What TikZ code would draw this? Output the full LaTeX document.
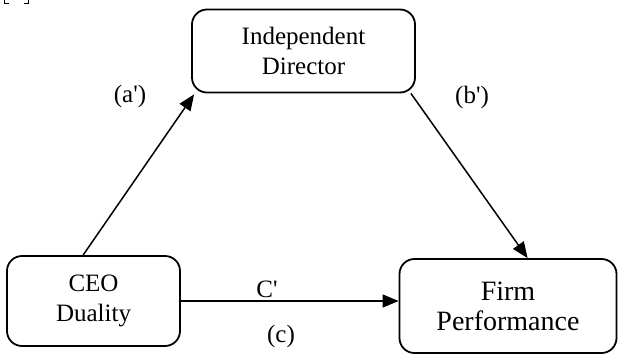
\documentclass[tikz,border=0pt]{standalone}
\usepackage{fontspec}
\setmainfont{Liberation Serif}
\usetikzlibrary{arrows.meta,calc}
\begin{document}
\begin{tikzpicture}[x=1pt,y=-1pt,
  box/.style={draw,line width=1.8pt,rounded corners=15pt,align=center,inner sep=0pt},
  arr/.style={line width=1.5pt,-{Triangle[length=16pt,width=13pt]}},
  lbl/.style={inner sep=0pt,font=\fontsize{25}{30}\selectfont}]
\useasboundingbox (0,0) rectangle (618,356);
\draw[line width=1.2pt] (4.5,0) -- (4.5,3.5) -- (9,3.5);
\draw[line width=1.2pt] (24,3.5) -- (28.5,3.5) -- (28.5,0);
\node[box,minimum width=223pt,minimum height=83pt,font=\fontsize{25}{30}\selectfont] (id) at (303.5,51) {Independent\\Director};
\node[box,minimum width=173pt,minimum height=90pt,font=\fontsize{25}{30}\selectfont] (ceo) at (93.5,301) {CEO\\Duality};
\node[box,minimum width=217pt,minimum height=94pt,font=\fontsize{28}{30}\selectfont] (firm) at (508,306) {Firm\\Performance};
\coordinate (ceotop) at ($(ceo.north west)+(77,0)$);
\coordinate (idbl) at ($(id.south west)+(3,1)$);
\coordinate (idbr) at ($(id.south east)+(-5,0)$);
\coordinate (firmtop) at ($(firm.north west)+(129,0)$);
\draw[arr] (ceotop) -- (idbl);
\draw[arr] (idbr) -- (firmtop);
\draw[arr] (ceo.east) -- (ceo.east -| firm.west);
\node[lbl] (la) at (130,96) {(a\textquotesingle)};
\node[lbl] (lb) at (472,97) {(b\textquotesingle)};
\node[lbl] (lc1) at (267,289) {C\textquotesingle};
\node[lbl] (lc) at (281,336) {(c)};
\end{tikzpicture}
\end{document}
